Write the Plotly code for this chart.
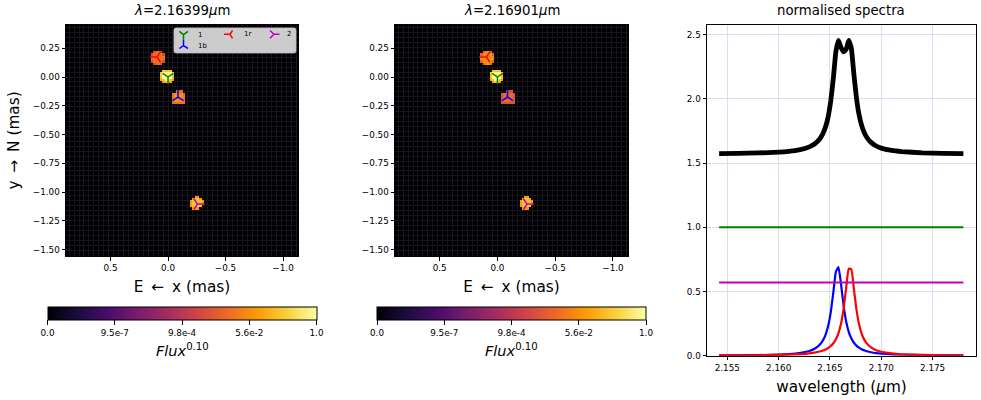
import plotly.graph_objects as go

W, H = 981, 400
FONT = "DejaVu Sans"

# ---- data
wavelength_milli = [-5.8,-4,-2,0,1,2,3,3.5,4,4.33,4.58,4.83,5.08,5.33,5.58,5.83,6.08,6.33,6.58,6.83,7.08,7.33,7.58,7.83,8.08,8.33,8.58,9,9.5,10,11,12,14,16,18]
spec_total = [1.574,1.5756,1.5786,1.585,1.591,1.602,1.626,1.648,1.687,1.732,1.784,1.863,1.985,2.161,2.37,2.455,2.40,2.365,2.385,2.455,2.395,2.193,2.009,1.879,1.795,1.739,1.701,1.661,1.633,1.616,1.598,1.589,1.580,1.576,1.574]
spec_1 = [1.0]*35
spec_1b = [.00221,.0031,.00489,.00883,.01287,.0204,.0371,.054,.0849,.1213,.165,.233,.339,.494,.655,.69,.557,.39,.266,.186,.135,.101,.0784,.0623,.0505,.0418,.0351,.0269,.0204,.016,.0106,.00749,.00432,.0028,.00197]
spec_1r = [.0018,.00246,.00367,.00607,.00826,.01187,.01846,.024,.0324,.0406,.0489,.0602,.0755,.0972,.1286,.1764,.251,.367,.529,.677,.673,.522,.361,.247,.174,.127,.0961,.064,.0427,.0304,.0177,.0114,.0059,.00359,.00241]
spec_2 = [0.57]*35
wavelength = [2.16 + v/1000 for v in wavelength_milli]

source_names = ["1", "1r", "1b", "2"]
source_x = [0.0, 0.096, -0.087, -0.256]
source_y = [0.0, 0.174, -0.174, -1.105]
source_colors = ["#008000", "#ff0000", "#0000ff", "#bf00bf"]
source_symbols = ["y-down", "y-left", "y-up", "y-right"]
flux_panel1 = [0.98, 0.68, 0.75, 0.86]
flux_panel2 = [0.98, 0.75, 0.66, 0.86]
wavelength_titles = ["<i>λ</i>=2.16399<i>μ</i>m", "<i>λ</i>=2.16901<i>μ</i>m"]

# 6 x 6 footprint of each unresolved source, top row first (relative flux)
patch_1 = [[0,.88,.88,.88,.88,0],[.88,1,1,1,1,.88],[.88,1,1,1,1,.88],[.86,1,1,1,1,.86],[.8,.88,1,1,.88,.8],[0,.8,.88,.88,.8,0]]
patch_1r = [[0,.85,1,1,.85,0],[.85,1,1,1,1,.85],[1,1,1,1,1,1],[1,1,1,1,1,1],[.85,1,1,1,1,.85],[0,.85,1,1,.85,0]]
patch_1b = [[0,0,.9,.9,.9,0],[.9,1,1,1,1,.9],[.9,1,1,1,1,.9],[.9,1,1,1,1,.9],[.9,1,1,1,1,.9],[.9,.9,.9,.9,.9,.9]]
patch_2 = [[0,0,.9,.9,0,0],[0,.9,1,1,.9,0],[.9,1,1,1,1,.9],[.9,1,1,1,1,.9],[.9,1,1,1,1,0],[0,.9,.9,.9,0,0]]
patches = [patch_1, patch_1r, patch_1b, patch_2]

CB_TICKS = [0, .25, .5, .75, 1]
CB_LABELS = ["0.0", "9.5e-7", "9.8e-4", "5.6e-2", "1.0"]

# ---- geometry
X_RANGE = [0.887, -1.13]
Y_RANGE = [-1.556, 0.452]
CELL = 0.02
NX, NY = 101, 101
xc = [X_RANGE[0] - (i + .5) * CELL for i in range(NX)]
yc = [Y_RANGE[0] + (j + .5) * CELL for j in range(NY)]

def image(levels):
    z = [[None] * NX for _ in range(NY)]
    for sx, sy, lev, patch in zip(source_x, source_y, levels, patches):
        ci = round((X_RANGE[0] - sx) / CELL)
        cj = round((sy - Y_RANGE[0]) / CELL)
        for r, row in enumerate(patch):
            for c, v in enumerate(row):
                if v:
                    z[cj + 2 - r][ci - 3 + c] = lev * v
    return z

def px_x(a, b): return [a / W, b / W]
def px_y(a, b): return [1 - b / H, 1 - a / H]

fig = go.Figure()
axis_font = dict(size=8.8, color="black", family=FONT)
common = dict(showline=True, mirror=True, linecolor="black", linewidth=1, ticks="outside",
              ticklen=3.5, tickwidth=1, tickcolor="black", tickfont=axis_font, zeroline=False)
img_minor = dict(dtick=0.043, tick0=0.0, showgrid=True, gridcolor="#17171b", gridwidth=0.8, ticks="")

shapes = []
panels = [(66, 298, "x", "y", "coloraxis", flux_panel1), (395, 628, "x2", "y2", "coloraxis2", flux_panel2)]
for idx, (x0, x1, xa, ya, ca, lev) in enumerate(panels):
    fig.add_trace(go.Heatmap(x=xc, y=yc, z=image(lev), coloraxis=ca, xaxis=xa, yaxis=ya,
                             hoverongaps=False, showlegend=False))
    for k, (n, sx, sy, col, sym) in enumerate(zip(source_names, source_x, source_y, source_colors, source_symbols)):
        fig.add_trace(go.Scatter(x=[sx], y=[sy], mode="markers", name=n, xaxis=xa, yaxis=ya, showlegend=False,
                                 marker=dict(symbol=sym, size=9, color=col, line=dict(color=col, width=1.5))))
    suffix = "" if idx == 0 else "2"
    fig.update_layout({
        "xaxis" + suffix: dict(domain=px_x(x0, x1), range=X_RANGE, anchor="y" + suffix, tickvals=[0.5, 0.0, -0.5, -1.0],
                               tickformat=".1f", showgrid=False, minor=img_minor,
                               title=dict(text="E\u2009 ←\u2009 x (mas)", font=dict(size=15.3, family=FONT), standoff=9), **common),
        "yaxis" + suffix: dict(domain=px_y(25, 256), range=Y_RANGE, anchor="x" + suffix,
                               tickvals=[0.25, 0, -.25, -.5, -.75, -1, -1.25, -1.5], tickformat=".2f",
                               showgrid=False, minor=img_minor, **common),
    })
    shapes.append(dict(type="rect", xref=f"{xa} domain", yref=f"{ya} domain", x0=0, x1=1, y0=0, y1=1,
                       layer="below", fillcolor="#000004", line=dict(width=0)))

fig.update_layout(yaxis_title=dict(text="y\u2009 →\u2009 N (mas)", font=dict(size=15.3, family=FONT), standoff=9))

for y, col, w, n in [(spec_total, "black", 4.8, "total"), (spec_1, "#008000", 2.2, "1"), (spec_1b, "#0000ff", 2.2, "1b"),
                     (spec_1r, "#ff0000", 2.2, "1r"), (spec_2, "#bf00bf", 2.2, "2")]:
    fig.add_trace(go.Scatter(x=wavelength, y=y, mode="lines", name=n, showlegend=False, xaxis="x3", yaxis="y3",
                             line=dict(color=col, width=w, shape="spline", smoothing=0.4)))

grid = dict(showgrid=True, gridcolor="#d6e0f1", gridwidth=1)
fig.update_layout(
    xaxis3=dict(domain=px_x(707, 976), range=[2.15302, 2.17923], anchor="y3", tickvals=[2.155, 2.16, 2.165, 2.17, 2.175],
                tickformat=".3f", title=dict(text="wavelength (<i>μ</i>m)", font=dict(size=15.3, family=FONT), standoff=9), **grid, **common),
    yaxis3=dict(domain=px_y(25, 355.7), range=[0, 2.575], anchor="x3", tickvals=[0, .5, 1, 1.5, 2, 2.5], tickformat=".1f", **grid, **common),
)

def cbar(cx):
    return dict(orientation="h", thickness=13, thicknessmode="pixels", len=269, lenmode="pixels", x=cx / W, xanchor="center",
                y=1 - 307 / H, yanchor="top", xpad=0, ypad=0, tickvals=CB_TICKS, ticktext=CB_LABELS, ticks="outside", ticklen=5,
                tickwidth=1, tickcolor="black", tickfont=axis_font, outlinecolor="black", outlinewidth=1)

# legend box, drawn as in the reference: rounded grey panel, glyphs and labels
shapes.append(dict(type="path", xref="paper", yref="paper", layer="above",
                   path=" ".join([f"M {176/W} {1-28/H}", f"L {294/W} {1-28/H}", f"Q {296/W} {1-28/H} {296/W} {1-30/H}",
                                  f"L {296/W} {1-51/H}", f"Q {296/W} {1-53/H} {294/W} {1-53/H}", f"L {176/W} {1-53/H}",
                                  f"Q {174/W} {1-53/H} {174/W} {1-51/H}", f"L {174/W} {1-30/H}", f"Q {174/W} {1-28/H} {176/W} {1-28/H} Z"]),
                   fillcolor="#cccccc", line=dict(color="#c0c0c0", width=0.8)))
legend_glyphs = [("1", (183.5, 34.7), [(179.3, 31.3), (188, 31.3), (183.5, 40)], 200),
                 ("1r", (230, 34.3), [(232.5, 30.5), (232.5, 38.3), (224, 34.3)], 247),
                 ("2", (274, 34.3), [(270, 30.5), (270, 38.3), (279.5, 34.3)], 289),
                 ("1b", (183.5, 45.7), [(179.3, 48.5), (188, 48.5), (183.5, 40)], 202)]
annotations = []
colour_of = dict(zip(source_names, source_colors))
for name, (jx, jy), tips, tx in legend_glyphs:
    path = " ".join(f"M {jx/W} {1-jy/H} L {a/W} {1-b/H}" for a, b in tips)
    shapes.append(dict(type="path", xref="paper", yref="paper", layer="above", path=path,
                       line=dict(color=colour_of[name], width=1.5)))
    annotations.append(dict(text=name, xref="paper", yref="paper", x=tx / W, y=1 - jy / H, showarrow=False,
                            xanchor="center", yanchor="middle", font=dict(size=7, family=FONT, color="black")))
for t, c in [(wavelength_titles[0], 182), (wavelength_titles[1], 511.5), ("normalised spectra", 841)]:
    annotations.append(dict(text=t, xref="paper", yref="paper", x=c / W, y=1 - 11 / H, showarrow=False, xanchor="center",
                            yanchor="middle", font=dict(size=13.3, family=FONT, color="black")))
for c in (182, 511.5):
    annotations.append(dict(text="<i>Flux</i><sup>0.10</sup>", xref="paper", yref="paper", x=c / W, y=1 - 350 / H, showarrow=False,
                            xanchor="center", yanchor="middle", font=dict(size=14.5, family=FONT, color="black")))

fig.update_layout(
    width=W, height=H, margin=dict(l=0, r=0, t=0, b=0, autoexpand=False), paper_bgcolor="white", plot_bgcolor="white",
    font=dict(family=FONT, color="black"), showlegend=False,
    coloraxis=dict(colorscale="Inferno", cmin=0, cmax=1, colorbar=cbar(182)),
    coloraxis2=dict(colorscale="Inferno", cmin=0, cmax=1, colorbar=cbar(511.5)),
    annotations=annotations,
    shapes=shapes,
)
fig.write_html("out.html", config={"displayModeBar": False}, post_script="document.body.style.margin='0';")
